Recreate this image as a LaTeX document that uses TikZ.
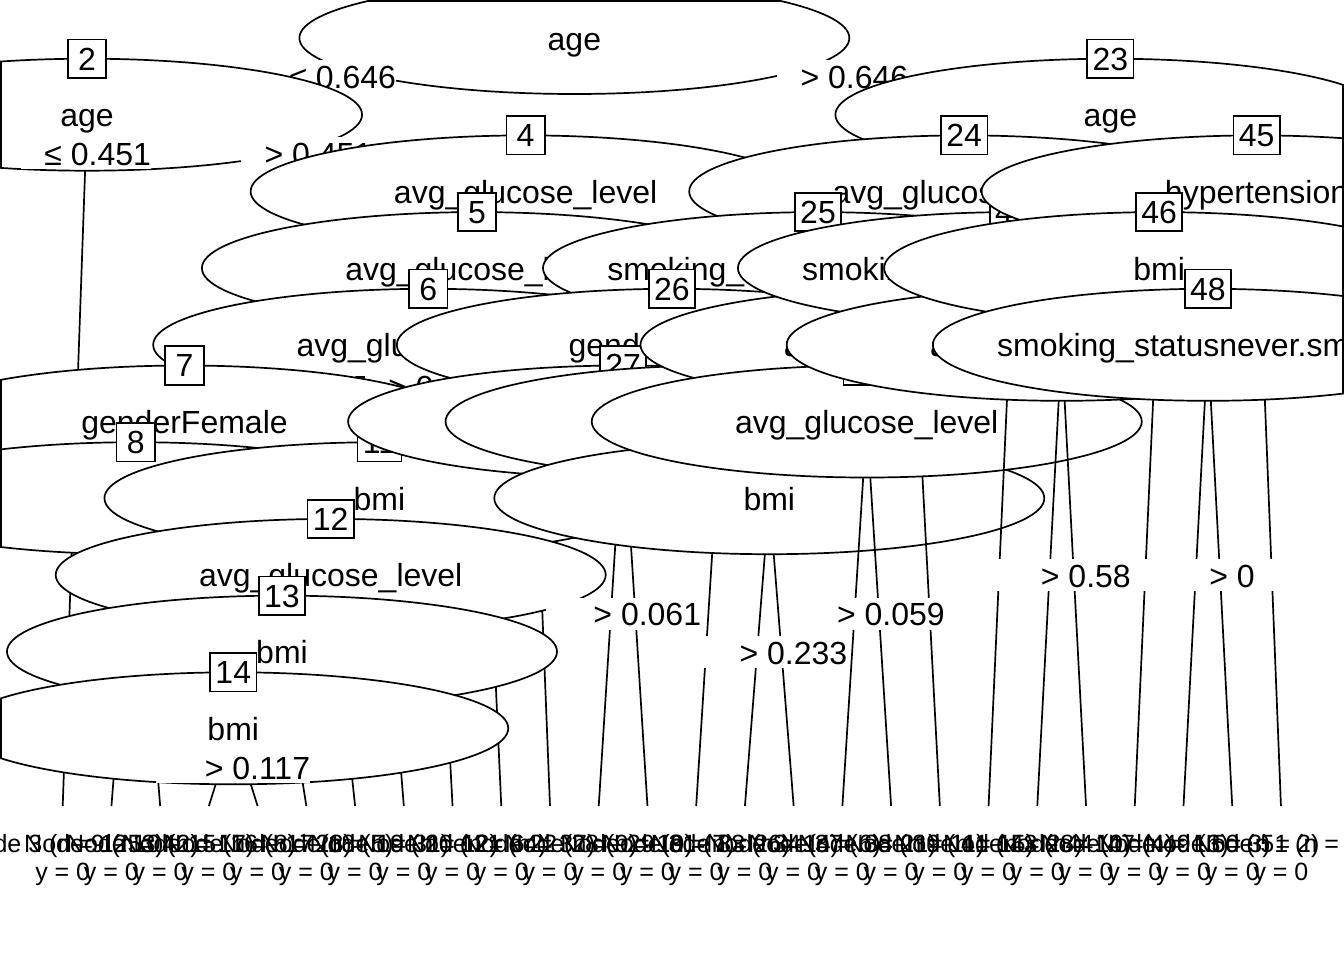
\documentclass[tikz,border=0pt]{standalone}
\usepackage{fontspec}
\setmainfont{Liberation Sans}
\usetikzlibrary{shapes.geometric}
\begin{document}
\begin{tikzpicture}[x=0.5pt,y=-0.5pt,line width=0.85pt,
  ell/.style={ellipse,draw,fill=white,minimum width=275pt,minimum height=56pt,inner sep=0pt},
  vtxt/.style={anchor=base,inner sep=0pt,font=\fontsize{16}{19}\selectfont},
  idbox/.style={draw,fill=white,font=\fontsize{16}{19}\selectfont,minimum width=19.2pt,minimum height=19.2pt,inner xsep=2.67pt,inner ysep=0pt,text height=11.46pt,text depth=0pt},
  lbox/.style={fill=white,minimum width=65pt,minimum height=16pt,inner sep=0pt},
  ltxt/.style={anchor=base,inner sep=0pt,font=\fontsize{16}{19}\selectfont},
  ttxt/.style={anchor=base,inner sep=0pt,font=\fontsize{12.5}{15}\selectfont}]
\useasboundingbox (0,0) rectangle (1344,960);
\clip (0,0) rectangle (1344,960);
\fill[white] (0,0) rectangle (1344,960);
% inner node centres
\coordinate (c1) at (574.37,38);
\coordinate (c2) at (87.07,114.7);
\coordinate (c4) at (525.64,191.4);
\coordinate (c5) at (476.91,268.1);
\coordinate (c6) at (428.18,344.8);
\coordinate (c7) at (184.53,421.5);
\coordinate (c8) at (135.80,498.2);
\coordinate (c11) at (379.45,498.2);
\coordinate (c12) at (330.72,574.9);
\coordinate (c13) at (281.99,651.6);
\coordinate (c14) at (233.26,728.3);
\coordinate (c23) at (1110.40,114.7);
\coordinate (c24) at (964.21,191.4);
\coordinate (c25) at (818.02,268.1);
\coordinate (c26) at (671.83,344.8);
\coordinate (c27) at (623.10,421.5);
\coordinate (c30) at (720.56,421.5);
\coordinate (c32) at (769.29,498.2);
\coordinate (c35) at (915.48,344.8);
\coordinate (c36) at (866.75,421.5);
\coordinate (c40) at (1012.94,268.1);
\coordinate (c42) at (1061.67,344.8);
\coordinate (c45) at (1256.59,191.4);
\coordinate (c46) at (1159.13,268.1);
\coordinate (c48) at (1207.86,344.8);
% terminal tops
\coordinate (t3) at (62.70,806);
\coordinate (t9) at (111.43,806);
\coordinate (t10) at (160.16,806);
\coordinate (t15) at (208.89,806);
\coordinate (t16) at (257.62,806);
\coordinate (t17) at (306.35,806);
\coordinate (t18) at (355.08,806);
\coordinate (t19) at (403.81,806);
\coordinate (t20) at (452.54,806);
\coordinate (t21) at (501.27,806);
\coordinate (t22) at (550.00,806);
\coordinate (t28) at (598.73,806);
\coordinate (t29) at (647.46,806);
\coordinate (t31) at (696.19,806);
\coordinate (t33) at (744.92,806);
\coordinate (t34) at (793.65,806);
\coordinate (t37) at (842.38,806);
\coordinate (t38) at (891.11,806);
\coordinate (t39) at (939.84,806);
\coordinate (t41) at (988.57,806);
\coordinate (t43) at (1037.30,806);
\coordinate (t44) at (1086.03,806);
\coordinate (t47) at (1134.76,806);
\coordinate (t49) at (1183.49,806);
\coordinate (t50) at (1232.22,806);
\coordinate (t51) at (1280.95,806);

% ---- node 1
\draw (c1) -- (c2); \draw (c1) -- (c23);
\node[ell] (n1) at (c1) {};
\draw (368.4,0.8) -- (779.6,0.8);
\node[vtxt] (v1) at (574.37,50) {age};
\node[lbox] (l1a) at (330.72,76.35) {}; \node[ltxt] (l1at) at (342.72,88.35) {≤ 0.646};
\node[lbox] (l1b) at (842.39,76.35) {}; \node[ltxt] (l1bt) at (854.39,88.35) {> 0.646};
% ---- node 2
\draw (c2) -- (t3); \draw (c2) -- (c4);
\node[ell] (n2) at (c2) {};
\draw (0.8,61.5) -- (0.8,167.9);
\node[vtxt] (v2) at (87.07,126.7) {age};
\node[idbox] (b2) at (87.07,58.7) {2};
\node[lbox] (l2a) at (85.72,153.05) {}; \node[ltxt] (l2at) at (97.72,165.05) {≤ 0.451};
\node[lbox] (l2b) at (306.36,153.05) {}; \node[ltxt] (l2bt) at (318.36,165.05) {> 0.451};
\node[ttxt] (n3) at (62.70,852) {Node 3 (n = 1253)}; \node[ttxt] (y3) at (62.70,880) {y = 0};
% ---- node 4
\draw (c4) -- (c5); \draw (c4) -- (t22);
\node[ell] (n4) at (c4) {};
\node[vtxt] (v4) at (525.64,203.4) {avg\_glucose\_level};
\node[idbox] (b4) at (525.64,135.4) {4};
\node[lbox] (l4a) at (501.28,229.75) {};
\node[lbox] (l4b) at (527.16,229.75) {};
% ---- node 5
\draw (c5) -- (c6); \draw (c5) -- (t21);
\node[ell] (n5) at (c5) {};
\node[vtxt] (v5) at (476.91,280.1) {avg\_glucose\_level};
\node[idbox] (b5) at (476.91,212.1) {5};
\node[lbox] (l5a) at (452.55,306.45) {};
\node[lbox] (l5b) at (478.65,306.45) {};
% ---- node 6
\draw (c6) -- (c7); \draw (c6) -- (t20);
\node[ell] (n6) at (c6) {};
\node[vtxt] (v6) at (428.18,356.8) {avg\_glucose\_level};
\node[idbox] (b6) at (428.18,288.8) {6};
\node[lbox] (l6a) at (306.36,385.15) {}; \node[ltxt] (l6at) at (318.36,398.15) {≤ 0.317};
\node[lbox] (l6b) at (430.21,385.15) {}; \node[ltxt] (l6bt) at (442.21,398.15) {> 0.317};
% ---- node 7
\draw (c7) -- (c8); \draw (c7) -- (c11);
\node[ell] (n7) at (c7) {};
\draw (0.8,379.8) -- (0.8,463.2);
\node[vtxt] (v7) at (184.53,433.5) {genderFemale};
\node[idbox] (b7) at (184.53,365.5) {7};
\node[lbox] (l7a) at (160.17,459.85) {};
\node[lbox] (l7b) at (281.99,459.85) {};
% ---- node 8
\draw (c8) -- (t9); \draw (c8) -- (t10);
\node[ell] (n8) at (c8) {};
\draw (0.8,449.4) -- (0.8,547.0);
\node[idbox] (b8) at (135.80,442.2) {8};
\node[lbox] (l8a) at (123.62,652.1) {};
\node[lbox] (l8b) at (147.98,652.1) {};
\node[ttxt] (n9) at (111.43,852) {Node 9 (n = 42)}; \node[ttxt] (y9) at (111.43,880) {y = 0};
\node[ttxt] (n10) at (160.16,852) {Node 10 (n = 17)}; \node[ttxt] (y10) at (160.16,880) {y = 0};
% ---- node 11
\draw (c11) -- (c12); \draw (c11) -- (t19);
\node[ell] (n11) at (c11) {};
\node[vtxt] (v11) at (379.45,510.2) {bmi};
\node[idbox] (b11) at (379.45,442.2) {11};
\node[lbox] (l11a) at (355.09,536.55) {};
\node[lbox] (l11b) at (382.49,536.55) {};
% ---- node 12
\draw (c12) -- (c13); \draw (c12) -- (t18);
\node[ell] (n12) at (c12) {};
\node[vtxt] (v12) at (330.72,586.9) {avg\_glucose\_level};
\node[idbox] (b12) at (330.72,518.9) {12};
\node[lbox] (l12a) at (306.36,613.25) {};
\node[lbox] (l12b) at (334.76,613.25) {};
% ---- node 13
\draw (c13) -- (c14); \draw (c13) -- (t17);
\node[ell] (n13) at (c13) {};
\node[vtxt] (v13) at (281.99,663.6) {bmi};
\node[idbox] (b13) at (281.99,595.6) {13};
\node[lbox] (l13a) at (257.63,689.95) {};
\node[lbox] (l13b) at (288.04,689.95) {};
% ---- node 14
\draw (c14) -- (t15); \draw (c14) -- (t16);
\node[ell] (n14) at (c14) {};
\draw (0.8,698.3) -- (0.8,758.3);
\node[vtxt] (v14) at (233.26,740.3) {bmi};
\node[idbox] (b14) at (233.26,672.3) {14};
\node[lbox] (l14a) at (221.08,767.15) {}; \node[ltxt] (l14at) at (233.08,779.15) {≤ 0.117};
\node[lbox] (l14b) at (245.44,767.15) {}; \node[ltxt] (l14bt) at (257.44,779.15) {> 0.117};
\node[ttxt] (n15) at (208.89,852) {Node 15 (n = 8)}; \node[ttxt] (y15) at (208.89,880) {y = 0};
\node[ttxt] (n16) at (257.62,852) {Node 16 (n = 23)}; \node[ttxt] (y16) at (257.62,880) {y = 0};
\node[ttxt] (n17) at (306.35,852) {Node 17 (n = 5)}; \node[ttxt] (y17) at (306.35,880) {y = 0};
\node[ttxt] (n18) at (355.08,852) {Node 18 (n = 31)}; \node[ttxt] (y18) at (355.08,880) {y = 0};
\node[ttxt] (n19) at (403.81,852) {Node 19 (n = 12)}; \node[ttxt] (y19) at (403.81,880) {y = 0};
\node[ttxt] (n20) at (452.54,852) {Node 20 (n = 64)}; \node[ttxt] (y20) at (452.54,880) {y = 0};
\node[ttxt] (n21) at (501.27,852) {Node 21 (n = 37)}; \node[ttxt] (y21) at (501.27,880) {y = 0};
\node[ttxt] (n22) at (550.00,852) {Node 22 (n = 9)}; \node[ttxt] (y22) at (550.00,880) {y = 0};
% ---- node 23
\draw (c23) -- (c24); \draw (c23) -- (c45);
\node[ell] (n23) at (c23) {};
\draw (1343.2,84.9) -- (1343.2,144.5);
\node[vtxt] (v23) at (1110.40,126.7) {age};
\node[idbox] (b23) at (1110.40,58.7) {23};
\node[lbox] (l23a) at (1037.31,153.05) {};
\node[lbox] (l23b) at (1183.50,153.05) {};
% ---- node 24
\draw (c24) -- (c25); \draw (c24) -- (c40);
\node[ell] (n24) at (c24) {};
\node[vtxt] (v24) at (964.21,203.4) {avg\_glucose\_level};
\node[idbox] (b24) at (964.21,135.4) {24};
\node[lbox] (l24a) at (891.12,229.75) {};
\node[lbox] (l24b) at (988.58,229.75) {};
% ---- node 25
\draw (c25) -- (c26); \draw (c25) -- (c35);
\node[ell] (n25) at (c25) {};
\node[vtxt] (v25) at (818.02,280.1) {smoking\_statusnever.smoked};
\node[idbox] (b25) at (818.02,212.1) {25};
\node[lbox] (l25a) at (744.93,306.45) {};
\node[lbox] (l25b) at (866.75,306.45) {};
% ---- node 26
\draw (c26) -- (c27); \draw (c26) -- (c30);
\node[ell] (n26) at (c26) {};
\node[vtxt] (v26) at (671.83,356.8) {genderFemale};
\node[idbox] (b26) at (671.83,288.8) {26};
\node[lbox] (l26a) at (647.47,383.15) {};
\node[lbox] (l26b) at (696.20,383.15) {};
% ---- node 27
\draw (c27) -- (t28); \draw (c27) -- (t29);
\node[ell] (n27) at (c27) {};
\node[idbox] (b27) at (623.10,365.5) {27};
\node[lbox] (l27a) at (610.92,613.75) {}; \node[ltxt] (l27at) at (622.92,625.75) {≤ 0.061};
\node[lbox] (l27b) at (635.28,613.75) {}; \node[ltxt] (l27bt) at (647.28,625.75) {> 0.061};
\node[ttxt] (n28) at (598.73,852) {Node 28 (n = 19)}; \node[ttxt] (y28) at (598.73,880) {y = 0};
\node[ttxt] (n29) at (647.46,852) {Node 29 (n = 7)}; \node[ttxt] (y29) at (647.46,880) {y = 0};
% ---- node 30
\draw (c30) -- (t31); \draw (c30) -- (c32);
\node[ell] (n30) at (c30) {};
\node[idbox] (b30) at (720.56,365.5) {30};
\node[lbox] (l30a) at (718.13,459.85) {};
\node[lbox] (l30b) at (744.93,459.85) {};
\node[ttxt] (n31) at (696.19,852) {Node 31 (n = 26)}; \node[ttxt] (y31) at (696.19,880) {y = 0};
% ---- node 32
\draw (c32) -- (t33); \draw (c32) -- (t34);
\node[ell] (n32) at (c32) {};
\node[vtxt] (v32) at (769.29,510.2) {bmi};
\node[idbox] (b32) at (769.29,442.2) {32};
\node[lbox] (l32a) at (757.11,652.1) {}; \node[ltxt] (l32at) at (769.11,664.1) {≤ 0.233};
\node[lbox] (l32b) at (781.47,652.1) {}; \node[ltxt] (l32bt) at (793.47,664.1) {> 0.233};
\node[ttxt] (n33) at (744.92,852) {Node 33 (n = 14)}; \node[ttxt] (y33) at (744.92,880) {y = 0};
\node[ttxt] (n34) at (793.65,852) {Node 34 (n = 6)}; \node[ttxt] (y34) at (793.65,880) {y = 0};
% ---- node 35
\draw (c35) -- (c36); \draw (c35) -- (t39);
\node[ell] (n35) at (c35) {};
\node[vtxt] (v35) at (915.48,356.8) {avg\_glucose\_level};
\node[idbox] (b35) at (915.48,288.8) {35};
\node[lbox] (l35a) at (891.12,383.15) {};
\node[lbox] (l35b) at (917.51,383.15) {};
% ---- node 36
\draw (c36) -- (t37); \draw (c36) -- (t38);
\node[ell] (n36) at (c36) {};
\node[vtxt] (v36) at (866.75,433.5) {avg\_glucose\_level};
\node[idbox] (b36) at (866.75,365.5) {36};
\node[lbox] (l36a) at (854.57,613.75) {}; \node[ltxt] (l36at) at (866.57,625.75) {≤ 0.059};
\node[lbox] (l36b) at (878.93,613.75) {}; \node[ltxt] (l36bt) at (890.93,625.75) {> 0.059};
\node[ttxt] (n37) at (842.38,852) {Node 37 (n = 21)}; \node[ttxt] (y37) at (842.38,880) {y = 0};
\node[ttxt] (n38) at (891.11,852) {Node 38 (n = 11)}; \node[ttxt] (y38) at (891.11,880) {y = 0};
\node[ttxt] (n39) at (939.84,852) {Node 39 (n = 15)}; \node[ttxt] (y39) at (939.84,880) {y = 0};
% ---- node 40
\draw (c40) -- (t41); \draw (c40) -- (c42);
\node[ell] (n40) at (c40) {};
\node[vtxt] (v40) at (1012.94,280.1) {smoking\_statusnever.smoked};
\node[idbox] (b40) at (1012.94,212.1) {40};
\node[lbox] (l40a) at (1011.20,306.45) {};
\node[lbox] (l40b) at (1037.31,306.45) {};
\node[ttxt] (n41) at (988.57,852) {Node 41 (n = 28)}; \node[ttxt] (y41) at (988.57,880) {y = 0};
% ---- node 42
\draw (c42) -- (t43); \draw (c42) -- (t44);
\node[ell] (n42) at (c42) {};
\node[vtxt] (v42) at (1061.67,356.8) {avg\_glucose\_level};
\node[idbox] (b42) at (1061.67,288.8) {42};
\node[lbox] (l42a) at (1049.49,575.4) {}; \node[ltxt] (l42at) at (1061.49,587.4) {≤ 0.58};
\node[lbox] (l42b) at (1073.85,575.4) {}; \node[ltxt] (l42bt) at (1085.85,587.4) {> 0.58};
\node[ttxt] (n43) at (1037.30,852) {Node 43 (n = 10)}; \node[ttxt] (y43) at (1037.30,880) {y = 0};
\node[ttxt] (n44) at (1086.03,852) {Node 44 (n = 4)}; \node[ttxt] (y44) at (1086.03,880) {y = 0};
% ---- node 45
\draw (c45) -- (c46); \draw (c45) -- (t51);
\node[ell] (n45) at (c45) {};
\draw (1343.2,138.2) -- (1343.2,244.6);
\node[vtxt] (v45) at (1256.59,203.4) {hypertension};
\node[idbox] (b45) at (1256.59,135.4) {45};
\node[lbox] (l45a) at (1207.86,229.75) {};
\node[lbox] (l45b) at (1258.11,229.75) {};
% ---- node 46
\draw (c46) -- (t47); \draw (c46) -- (c48);
\node[ell] (n46) at (c46) {};
\draw (1343.2,226.5) -- (1343.2,309.7);
\node[vtxt] (v46) at (1159.13,280.1) {bmi};
\node[idbox] (b46) at (1159.13,212.1) {46};
\node[lbox] (l46a) at (1157.39,306.45) {};
\node[lbox] (l46b) at (1183.50,306.45) {};
\node[ttxt] (n47) at (1134.76,852) {Node 47 (n = 13)}; \node[ttxt] (y47) at (1134.76,880) {y = 0};
% ---- node 48
\draw (c48) -- (t49); \draw (c48) -- (t50);
\node[ell] (n48) at (c48) {};
\draw (1343.2,296.0) -- (1343.2,393.6);
\node[vtxt] (v48) at (1207.86,356.8) {smoking\_statusnever.smoked};
\node[idbox] (b48) at (1207.86,288.8) {48};
\node[lbox] (l48a) at (1195.68,575.4) {}; \node[ltxt] (l48at) at (1207.68,587.4) {≤ 0};
\node[lbox] (l48b) at (1220.04,575.4) {}; \node[ltxt] (l48bt) at (1232.04,587.4) {> 0};
\node[ttxt] (n49) at (1183.49,852) {Node 49 (n = 3)}; \node[ttxt] (y49) at (1183.49,880) {y = 0};
\node[ttxt] (n50) at (1232.22,852) {Node 50 (n = 2)}; \node[ttxt] (y50) at (1232.22,880) {y = 0};
\node[ttxt] (n51) at (1280.95,852) {Node 51 (n = 1)}; \node[ttxt] (y51) at (1280.95,880) {y = 0};
\end{tikzpicture}
\end{document}
